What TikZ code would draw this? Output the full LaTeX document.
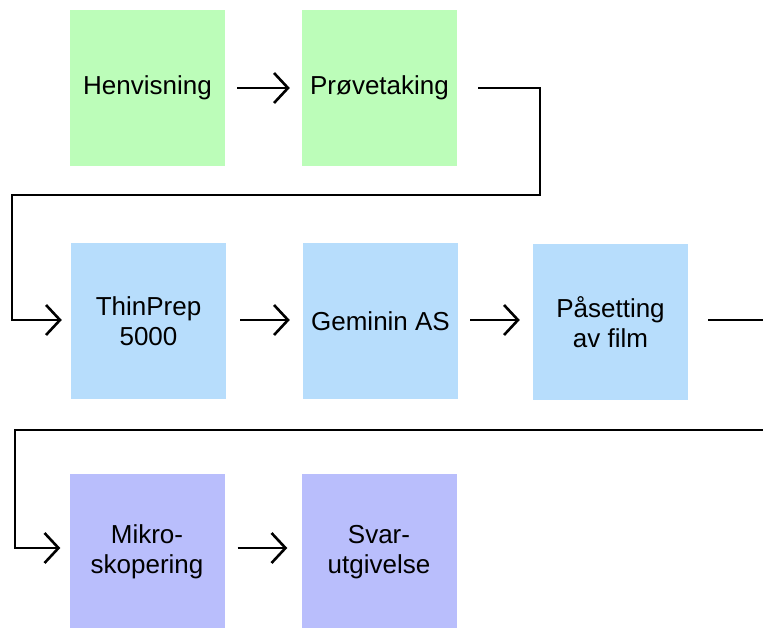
\documentclass[tikz,border=0pt]{standalone}
\usepackage{fontspec}
\setmainfont{Liberation Sans}
\usetikzlibrary{arrows.meta}
\definecolor{cgreen}{RGB}{188,253,185}
\definecolor{cblue}{RGB}{183,221,252}
\definecolor{cpurple}{RGB}{185,190,252}
\begin{document}
\begin{tikzpicture}[x=1pt,y=-1pt,
  stepbox/.style={minimum width=155pt,minimum height=156pt,inner sep=0pt,align=center,
    font=\fontsize{26}{30}\selectfont},
  conn/.style={line width=2.8pt,draw=black},
  arr/.style={conn,-{Straight Barb[length=14pt,width=30pt,line width=2.6pt]}}]
\useasboundingbox (0,0) rectangle (763,627);
\node[stepbox,fill=cgreen] (A) at (147.5,88) {Henvisning};
\node[stepbox,fill=cgreen] (B) at (379.5,88) {Prøvetaking};
\node[stepbox,fill=cblue] (C) at (148.5,321) {ThinPrep\\5000};
\node[stepbox,fill=cblue] (D) at (380.5,321) {Geminin AS};
\node[stepbox,fill=cblue] (E) at (610.5,322) {Påsetting\\av film};
\node[stepbox,fill=cpurple] (F) at (147,552) {Mikro-\\skopering};
\node[stepbox,fill=cpurple] (G) at (379,552) {Svar-\\utgivelse};
\coordinate (k1) at (540,195);
\coordinate (k2) at (12,195);
\coordinate (e1) at (764,320);
\coordinate (e2) at (764,430);
\coordinate (m1) at (15,430);
\coordinate (r2) at (0,320);
\coordinate (r3) at (0,548);
\draw[arr] ([xshift=12pt]A.east) -- ([xshift=-12pt]B.west);
\draw[arr] ([xshift=21pt]B.east) -| (k1) -- (k2) |- ([xshift=-9pt]C.west |- r2);
\draw[arr] ([xshift=14pt]C.east |- r2) -- ([xshift=-13pt]D.west |- r2);
\draw[arr] ([xshift=12pt]D.east |- r2) -- ([xshift=-13pt]E.west |- r2);
\draw[conn] ([xshift=20pt]E.east |- e1) -- (e1);
\draw[arr] (e2) -- (m1) |- ([xshift=-9pt]F.west |- r3);
\draw[arr] ([xshift=13pt]F.east |- r3) -- ([xshift=-14pt]G.west |- r3);
\end{tikzpicture}
\end{document}
